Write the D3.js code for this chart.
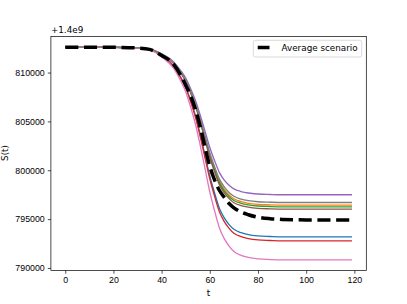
<!DOCTYPE html>
<html>
<head>
<meta charset="utf-8">
<script src="https://cdn.jsdelivr.net/npm/d3@7"></script>
<style>
  html, body { margin: 0; padding: 0; background: #fff; }
  svg { display: block; font-family: "DejaVu Sans", sans-serif; }
  .tick text { font-size: 8.8px; fill: #000; }
</style>
</head>
<body>
<svg id="chart" width="407" height="304"></svg>
<script>
// S(t) scenarios, values shown relative to the axis offset (+1.4e9)
const OFFSET_LABEL = '+1.4e9';
const times = [0, 10, 20, 30, 35, 40, 45, 48, 50, 52, 54, 56, 58, 60, 62, 64, 66, 68, 70, 73, 76, 80, 85, 90, 100, 110, 119];

const scenarioColors = ['#1f77b4', '#ff7f0e', '#2ca02c', '#d62728', '#9467bd', '#8c564b', '#e377c2', '#7f7f7f'];

const blueSeries   = [812600, 812600, 812580, 812500, 812350, 811730, 810660, 809490, 808520, 807160, 805610, 803670, 801530, 799390, 797650, 796090, 795120, 794440, 793960, 793610, 793410, 793280, 793220, 793180, 793180, 793180, 793180];
const orangeSeries = [812600, 812600, 812580, 812520, 812390, 811870, 810980, 810010, 809200, 808070, 806780, 805160, 803380, 801600, 800150, 798860, 798050, 797480, 797080, 796790, 796620, 796510, 796460, 796430, 796430, 796430, 796430];
const greenSeries  = [812600, 812600, 812580, 812520, 812390, 811860, 810970, 809990, 809170, 808020, 806720, 805080, 803290, 801490, 800020, 798710, 797890, 797320, 796910, 796620, 796460, 796340, 796290, 796260, 796260, 796260, 796260];
const redSeries    = [812600, 812600, 812580, 812500, 812340, 811710, 810620, 809430, 808440, 807050, 805460, 803480, 801300, 799120, 797330, 795740, 794750, 794060, 793560, 793210, 793010, 792870, 792810, 792770, 792770, 792770, 792770];
const purpleSeries = [812600, 812600, 812590, 812520, 812400, 811920, 811090, 810180, 809430, 808370, 807160, 805650, 803990, 802330, 800970, 799760, 799000, 798470, 798090, 797820, 797670, 797570, 797520, 797490, 797490, 797490, 797490];
const brownSeries  = [812600, 812600, 812580, 812520, 812380, 811850, 810940, 809950, 809120, 807960, 806630, 804970, 803150, 801330, 799830, 798510, 797680, 797100, 796680, 796390, 796220, 796100, 796050, 796020, 796020, 796020, 796020];
const pinkSeries   = [812600, 812600, 812580, 812490, 812320, 811620, 810420, 809120, 808030, 806500, 804760, 802580, 800190, 797790, 795830, 794090, 793000, 792240, 791690, 791300, 791080, 790930, 790860, 790820, 790820, 790820, 790820];
const graySeries   = [812600, 812600, 812580, 812520, 812390, 811880, 811010, 810060, 809260, 808150, 806880, 805290, 803540, 801790, 800360, 799090, 798290, 797730, 797340, 797050, 796890, 796780, 796730, 796700, 796700, 796700, 796700];
const averageSeries = [812600, 812600, 812580, 812510, 812370, 811750, 810830, 809680, 808710, 807650, 806240, 804470, 802350, 800400, 798990, 797930, 797220, 796600, 796160, 795720, 795450, 795190, 795040, 794970, 794920, 794920, 794920];

const scenarios = [blueSeries, orangeSeries, greenSeries, redSeries, purpleSeries, brownSeries, pinkSeries, graySeries];

const xTicks = [0, 20, 40, 60, 80, 100, 120];
const yTicks = [790000, 795000, 800000, 805000, 810000];

const width = 407, height = 304;
const margin = { top: 36.5, right: 40.7, bottom: 33.4, left: 50.9 };

const svg = d3.select('#chart');

// 5% padding like matplotlib autoscale
const allValues = scenarios.concat([averageSeries]).flat();
const xMin = d3.min(times), xMax = d3.max(times);
const yMin = d3.min(allValues), yMax = d3.max(allValues);
const xPad = (xMax - xMin) * 0.05, yPad = (yMax - yMin) * 0.05;

const x = d3.scaleLinear()
    .domain([xMin - xPad, xMax + xPad])
    .range([margin.left, width - margin.right]);

const y = d3.scaleLinear()
    .domain([yMin - yPad, yMax + yPad])
    .range([height - margin.bottom, margin.top]);

const line = d3.line()
    .x((d, i) => x(times[i]))
    .y(d => y(d))
    .curve(d3.curveMonotoneX);

const plot = svg.append('g');

// シナリオ線
scenarios.forEach((series, i) => {
    plot.append('path')
        .datum(series)
        .attr('d', line)
        .attr('fill', 'none')
        .attr('stroke', scenarioColors[i])
        .attr('stroke-width', 1.33);
});

// 平均シナリオ（太い破線）
plot.append('path')
    .datum(averageSeries)
    .attr('d', line)
    .attr('fill', 'none')
    .attr('stroke', '#000')
    .attr('stroke-width', 3.5)
    .attr('stroke-dasharray', '13.1,5.65');

// axes
const xAxis = svg.append('g')
    .attr('transform', `translate(0,${height - margin.bottom})`)
    .call(d3.axisBottom(x).tickValues(xTicks).tickSize(3.1).tickPadding(3.1));

const yAxis = svg.append('g')
    .attr('transform', `translate(${margin.left},0)`)
    .call(d3.axisLeft(y).tickValues(yTicks).tickSize(3.1).tickPadding(3.1).tickFormat(d3.format('d')));

[xAxis, yAxis].forEach(g => {
    g.select('.domain').remove();
    g.selectAll('.tick line').attr('stroke', '#000').attr('stroke-width', 0.7);
});

// spines
svg.append('rect')
    .attr('x', margin.left)
    .attr('y', margin.top)
    .attr('width', width - margin.left - margin.right)
    .attr('height', height - margin.top - margin.bottom)
    .attr('fill', 'none')
    .attr('stroke', '#000')
    .attr('stroke-width', 0.7);

// offset text
svg.append('text')
    .attr('x', margin.left)
    .attr('y', 32.7)
    .attr('font-size', 8.8)
    .text(OFFSET_LABEL);

// axis labels
svg.append('text')
    .attr('x', (margin.left + width - margin.right) / 2)
    .attr('y', 296)
    .attr('text-anchor', 'middle')
    .attr('font-size', 8.8)
    .text('t');

svg.append('text')
    .attr('transform', 'translate(7.5,153) rotate(-90)')
    .attr('text-anchor', 'middle')
    .attr('font-size', 8.8)
    .text('S(t)');

// legend
const legend = svg.append('g');
legend.append('rect')
    .attr('x', 253.3)
    .attr('y', 40.3)
    .attr('width', 108.4)
    .attr('height', 16.7)
    .attr('rx', 2)
    .attr('fill', '#fff')
    .attr('fill-opacity', 0.8)
    .attr('stroke', '#ccc')
    .attr('stroke-width', 0.7);
legend.append('line')
    .attr('x1', 257.7).attr('x2', 269.5)
    .attr('y1', 47.5).attr('y2', 47.5)
    .attr('stroke', '#000')
    .attr('stroke-width', 3.5);
legend.append('text')
    .attr('x', 281.5)
    .attr('y', 50.8)
    .attr('font-size', 8.8)
    .text('Average scenario');
</script>
</body>
</html>
